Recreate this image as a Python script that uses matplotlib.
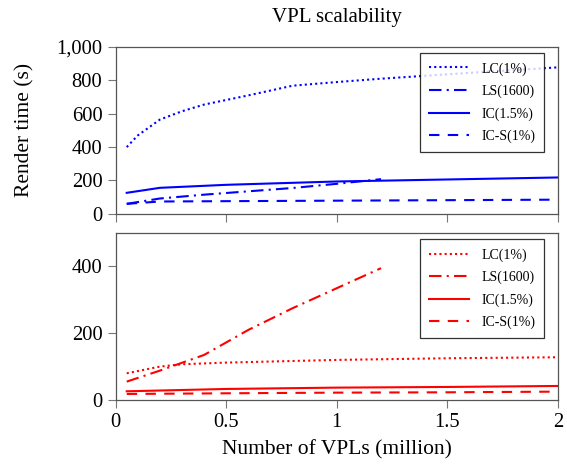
import matplotlib
matplotlib.use("Agg")
import matplotlib.pyplot as plt
from matplotlib.ticker import FuncFormatter

plt.rcParams['font.family'] = ['Liberation Serif', 'DejaVu Serif']
plt.rcParams['mathtext.fontset'] = 'stix'

labels = ["LC(1%)", "LS(1600)", "IC(1.5%)", "IC-S(1%)"]

# Top panel (blue)
top_lc_x = [0.05, 0.1, 0.2, 0.3, 0.4, 0.6, 0.8, 1.0, 1.2, 1.6, 2.0]
top_lc_y = [400, 470, 565, 615, 655, 710, 768, 790, 810, 845, 878]
top_ls_x = [0.05, 0.2, 0.4, 0.6, 0.8, 1.0, 1.2]
top_ls_y = [60, 92, 115, 135, 155, 180, 208]
top_ic_x = [0.05, 0.2, 0.5, 1.0, 1.5, 2.0]
top_ic_y = [126, 156, 174, 194, 206, 218]
top_ics_x = [0.05, 0.2, 0.5, 1.0, 1.5, 2.0]
top_ics_y = [60, 74, 76, 79, 82, 85]

# Bottom panel (red)
bot_lc_x = [0.05, 0.2, 0.3, 0.5, 1.0, 1.5, 2.0]
bot_lc_y = [80, 100, 107, 112, 120, 125, 128]
bot_ls_x = [0.05, 0.2, 0.4, 0.6, 0.8, 1.0, 1.2]
bot_ls_y = [55, 88, 135, 210, 275, 335, 395]
bot_ic_x = [0.05, 0.5, 1.0, 1.5, 2.0]
bot_ic_y = [26, 33, 37, 39, 42]
bot_ics_x = [0.05, 0.5, 1.0, 1.5, 2.0]
bot_ics_y = [18, 20, 22, 23, 25]

x_ticks = [0, 0.5, 1, 1.5, 2]
x_ticklabels = ["0", "0.5", "1", "1.5", "2"]
top_yticks = [0, 200, 400, 600, 800, 1000]
bot_yticks = [0, 200, 400]

styles = [(0, (1, 1.5)), (0, (6, 2.5, 1, 2.5)), '-', (0, (5, 4))]

fig = plt.figure(figsize=(5.67, 4.70), dpi=100)
ax1 = fig.add_axes([0.204, 0.545, 0.780, 0.355])
ax2 = fig.add_axes([0.204, 0.149, 0.780, 0.355])

def style_ax(ax):
    for s in ax.spines.values():
        s.set_color('#555555')
        s.set_linewidth(0.9)
    ax.tick_params(direction='out', length=5.5, width=0.8, color='#777777',
                   labelsize=14.8, pad=4)
    ax.set_xlim(0, 2)
    ax.set_xticks(x_ticks)

top_data = [(top_lc_x, top_lc_y), (top_ls_x, top_ls_y), (top_ic_x, top_ic_y), (top_ics_x, top_ics_y)]
bot_data = [(bot_lc_x, bot_lc_y), (bot_ls_x, bot_ls_y), (bot_ic_x, bot_ic_y), (bot_ics_x, bot_ics_y)]

for (x, y), ls, lab in zip(top_data, styles, labels):
    ax1.plot(x, y, color='#0000ff', linestyle=ls, linewidth=1.5, label=lab)
for (x, y), ls, lab in zip(bot_data, styles, labels):
    ax2.plot(x, y, color='#ff0000', linestyle=ls, linewidth=1.5, label=lab)

style_ax(ax1)
style_ax(ax2)
ax1.set_ylim(0, 1000)
ax1.set_yticks(top_yticks)
ax1.yaxis.set_major_formatter(FuncFormatter(lambda v, p: f"{int(v):,}"))
ax1.set_xticklabels([])
ax2.set_ylim(0, 500)
ax2.set_yticks(bot_yticks)
ax2.set_xticklabels(x_ticklabels)

for ax in (ax1, ax2):
    leg = ax.legend(loc='upper right', fontsize=10, frameon=True, fancybox=False,
                    edgecolor='black', handlelength=2.9, borderpad=0.65,
                    labelspacing=0.65, handletextpad=0.85, borderaxespad=0,
                    bbox_to_anchor=(0.969, 0.964))
    leg.get_frame().set_linewidth(0.9)

ax1.set_title("VPL scalability", fontsize=15, pad=18)
ax1.set_ylabel("Render time (s)", fontsize=15.5)
ax1.yaxis.set_label_coords(-0.183, 0.5)
ax2.set_xlabel("Number of VPLs (million)", fontsize=15.5, labelpad=6)

fig.savefig("out.png", dpi=100)
